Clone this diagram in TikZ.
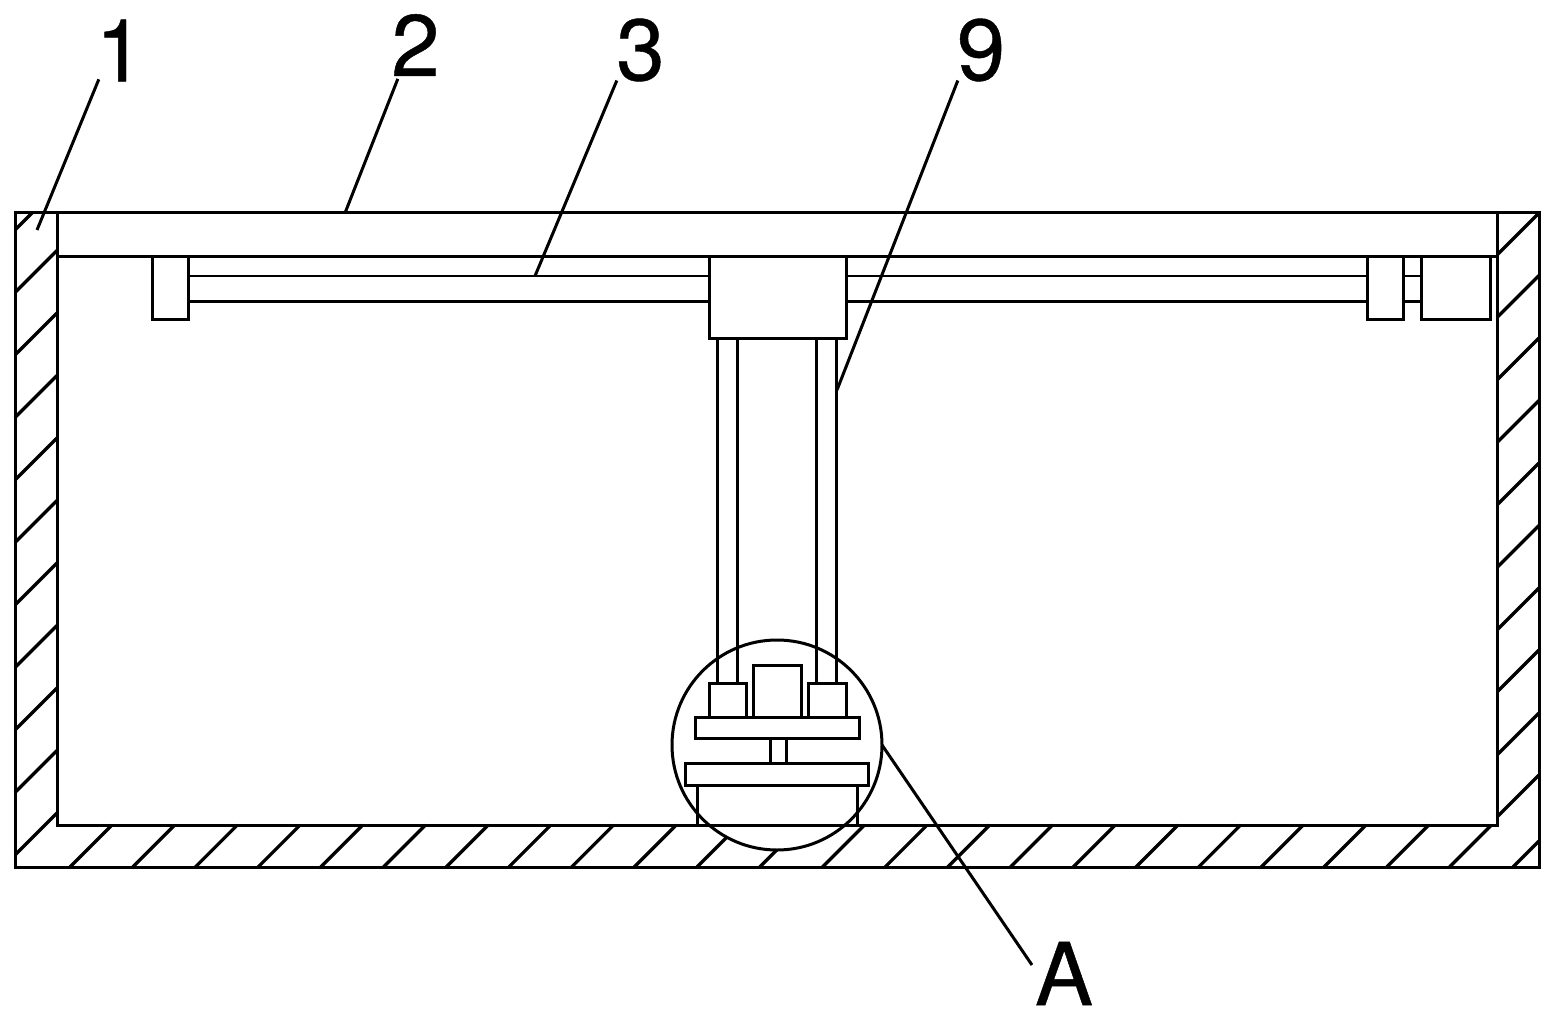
\documentclass[tikz,border=0pt]{standalone}
\usepackage{fontspec}
\newfontfamily\labelfont[FakeBold=0.5]{TeX Gyre Heros}
\tikzset{
    part/.style={black, line width=3pt},
    thinpart/.style={black, line width=2.2pt},
    hatch/.style={black, line width=3.3pt},
    leader/.style={black, line width=3pt},
    numlabel/.style={inner sep=0pt, outer sep=0pt, font=\fontsize{87}{87}\labelfont},
}
\begin{document}
\begin{tikzpicture}[x=1pt, y=-1pt]
    \useasboundingbox (0,0) rectangle (1552,1016);

    % draw hatching of the walls
    \foreach \y in {292.5,355,417.5,480,542.5,605,667.5,730,792.5,855}
        \draw[hatch] (15,\y) -- (57,\y-42);
    \draw[hatch] (15,230) -- (32,213);
    \foreach \y in {255,317.5,380,442.5,505,567.5,630,692,755,817}
        \draw[hatch] (1497,\y) -- (1539,\y-42);
    \foreach \x in {70,132.7,...,1450}
        \draw[hatch] (\x,867) -- (\x+42,825);
    \draw[hatch] (1513,867) -- (1539,841);

    % draw detail circle
    \node[part, draw, fill=white, circle, minimum size=210pt, inner sep=0pt, outer sep=0pt] (circA) at (777,745) {};

    % draw housing
    \draw[part] (15,213) rectangle (1539,867);
    \draw[part] (57,213) -- (57,825) -- (1497,825) -- (1497,213);
    \draw[part] (57,257) -- (1497,257);

    % draw screw rod and its blocks
    \draw[thinpart] (188,276) -- (709,276);
    \draw[part] (188,301) -- (709,301);
    \draw[thinpart] (846,276) -- (1367,276);
    \draw[part] (846,301) -- (1367,301);
    \draw[thinpart] (1403,276) -- (1421,276);
    \draw[part] (1403,301) -- (1421,301);
    \draw[part] (152,257) rectangle (188,319);
    \draw[part] (1367,257) rectangle (1403,319);
    \draw[part] (1421,257) rectangle (1490,319);
    \draw[part] (709,257) rectangle (846,338);

    % draw hanging rods
    \draw[part] (717,338) -- (717,683);
    \draw[part] (737,338) -- (737,683);
    \draw[part] (816,338) -- (816,683);
    \draw[part] (836,338) -- (836,683);

    % draw lower assembly
    \draw[part] (709,683) rectangle (746,717);
    \draw[part] (808,683) rectangle (846,717);
    \draw[part] (753,665) rectangle (801,717);
    \draw[part] (695,717) rectangle (859,738);
    \draw[part] (770,738) -- (770,763);
    \draw[part] (786,738) -- (786,763);
    \draw[part] (685,763) rectangle (868,785);
    \draw[part] (697,785) -- (697,825);
    \draw[part] (857,785) -- (857,825);

    % add labels
    \node[numlabel] (lab1) at (120,50.5) {1};
    \node[numlabel] (lab2) at (415.5,45) {2};
    \node[numlabel] (lab3) at (640.5,50) {3};
    \node[numlabel] (lab9) at (981,50) {9};
    \node[numlabel] (labA) at (1064,973.5) {A};

    % add leader lines
    \coordinate (tip1) at (37,230);
    \coordinate (tip2) at (345,213);
    \coordinate (tip3) at (535,276);
    \coordinate (tip9) at (837,390);
    \draw[leader] ([xshift=3pt,yshift=2pt]lab1.south west) -- (tip1);
    \draw[leader] ([xshift=6.5pt,yshift=-3pt]lab2.south west) -- (tip2);
    \draw[leader] ([xshift=0.5pt,yshift=1pt]lab3.south west) -- (tip3);
    \draw[leader] ([xshift=1pt,yshift=1pt]lab9.south west) -- (tip9);
    \draw[leader] ([xshift=-3pt,yshift=8.5pt]labA.west) -- (circA.east);

\end{tikzpicture}
\end{document}
